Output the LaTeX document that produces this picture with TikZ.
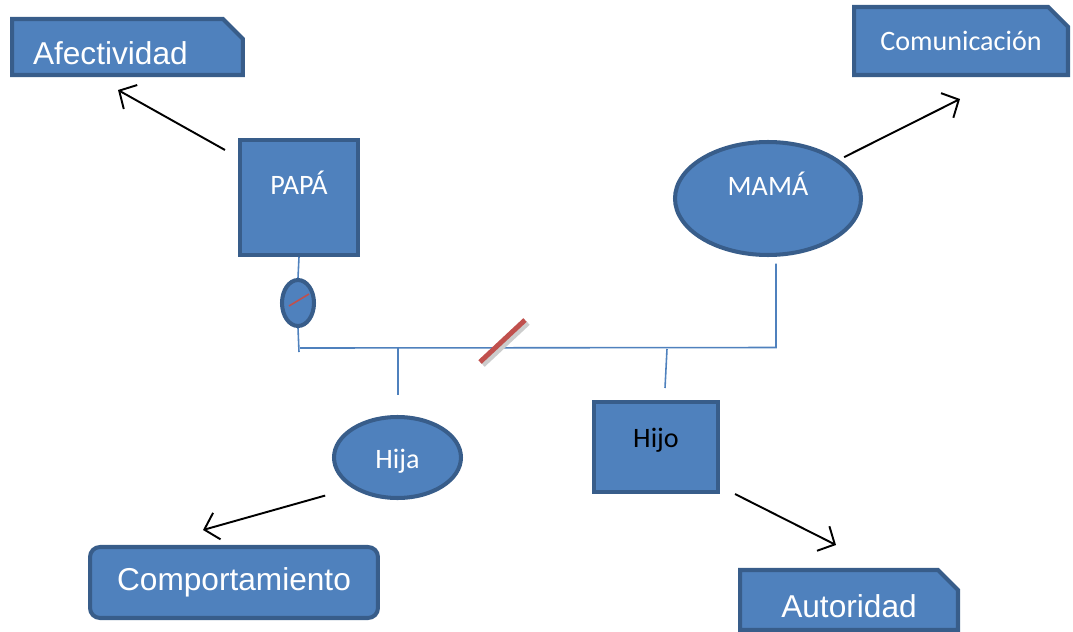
\documentclass[tikz,border=0pt]{standalone}
\usepackage{fontspec}
\setmainfont{Carlito}
\newfontfamily\arialfont{Liberation Sans}
\usetikzlibrary{shapes.geometric}
\usetikzlibrary{shapes.misc}
\usetikzlibrary{arrows.meta}

\definecolor{boxfill}{RGB}{79,129,189}
\definecolor{boxline}{RGB}{56,93,138}
\definecolor{slash}{RGB}{192,80,77}

\tikzset{
  fam/.style={fill=boxfill, draw=boxline, line width=2.3pt, inner sep=0pt,
    text=white, font=\fontsize{16}{18}\selectfont},
  snip/.style={fam, chamfered rectangle, chamfered rectangle corners=north east,
    chamfered rectangle xsep=0.2cm, chamfered rectangle ysep=0.2cm},
  raised/.style={text height=10pt, text depth=13pt},
  tie/.style={draw=boxfill, line width=0.9pt},
  link/.style={draw=black, line width=1.1pt, -{Straight Barb[length=2.6mm,width=5.5mm]}}
}

\begin{document}
\begin{tikzpicture}[x=0.02cm, y=-0.02cm]
  \useasboundingbox (0,0) rectangle (1073,632);

  % the four goals
  \node (afe) [snip, minimum width=4.62cm, minimum height=1.12cm,
    text width=3.78cm, align=left, inner xsep=0.22cm, text height=19.5pt, text depth=0pt,
    font=\arialfont\fontsize{18}{20}\selectfont] at (127.5,47) {Afectividad};
  \node (comu) [snip, minimum width=4.28cm, minimum height=1.36cm] at (961,41) {Comunicación};
  \node (comp) [fam, rectangle, rounded corners=0.2cm, minimum width=5.76cm,
    minimum height=1.42cm, font=\arialfont\fontsize{18}{20}\selectfont]
    at (234,582.5) {Comportamiento};
  \node (auto) [snip, minimum width=4.36cm, minimum height=1.2cm,
    text height=20pt, text depth=0pt, font=\arialfont\fontsize{18}{20}\selectfont]
    at (849,600) {Autoridad};

  % the family
  \node (papa) [fam, rectangle, minimum width=2.36cm, minimum height=2.3cm, raised]
    at (299,197.5) {PAPÁ};
  \node (mama) [fam, ellipse, minimum width=3.72cm, minimum height=2.26cm, raised]
    at (768,198.5) {MAMÁ};
  \node (lazo) [fam, ellipse, minimum width=0.64cm, minimum height=0.92cm]
    at (298,303) {};
  \node (hija) [fam, ellipse, minimum width=2.54cm, minimum height=1.62cm,
    text height=15pt, text depth=2.4pt] at (397.5,457.5) {Hija};
  \node (hijo) [fam, rectangle, minimum width=2.48cm, minimum height=1.8cm,
    text=black, text height=10pt, text depth=10pt] at (656,447) {Hijo};

  % family lines
  \path (lazo.south) +(1,24) coordinate (barlo);
  \path (lazo.south) +(2,20) coordinate (barw);
  \path (mama.south) +(8,90.5) coordinate (bare);
  \path (mama.south) +(8,6.5) coordinate (mamo);
  \path (hija.north) +(0.5,-68) coordinate (hjao);
  \path (hija.north) +(0.5,-20) coordinate (hjai);
  \path (hijo.north) +(11,-51) coordinate (hjoo);
  \path (hijo.north) +(9,-12) coordinate (hjoi);
  \draw[tie] (papa.south) -- (lazo.north);
  \draw[tie] (lazo.south) -- (barlo);
  \draw[tie] (barw) -- (bare) -- (mamo);
  \draw[tie] (hjao) -- (hjai);
  \draw[tie] (hjoo) -- (hjoi);
  \draw[slash, line width=0.9pt] (lazo.center) +(-9,3) -- +(11,-9);
  \draw[black!20, line width=2.8pt] (483,365) -- (528,323);
  \draw[slash, line width=2.8pt] (480,362) -- (525,320);

  % arrows to the goals
  \path (papa.north west) +(-13,12) coordinate (papo) {};
  \path (afe.south west) +(108,13) coordinate (afei) {};
  \draw[link] (papo) -- (afei);
  \path (mama.north east) +(9,0) coordinate (mamx) {};
  \path (comu.south) +(-1,22) coordinate (comi) {};
  \draw[link] (mamx) -- (comi);
  \path (hija.south west) +(-26,8) coordinate (hjax) {};
  \path (comp.north west) +(115,-15) coordinate (compi) {};
  \draw[link] (hjax) -- (compi);
  \path (hijo.south east) +(15,0) coordinate (hjox) {};
  \path (auto.north west) +(98,-23) coordinate (autoi) {};
  \draw[link] (hjox) -- (autoi);
\end{tikzpicture}
\end{document}
